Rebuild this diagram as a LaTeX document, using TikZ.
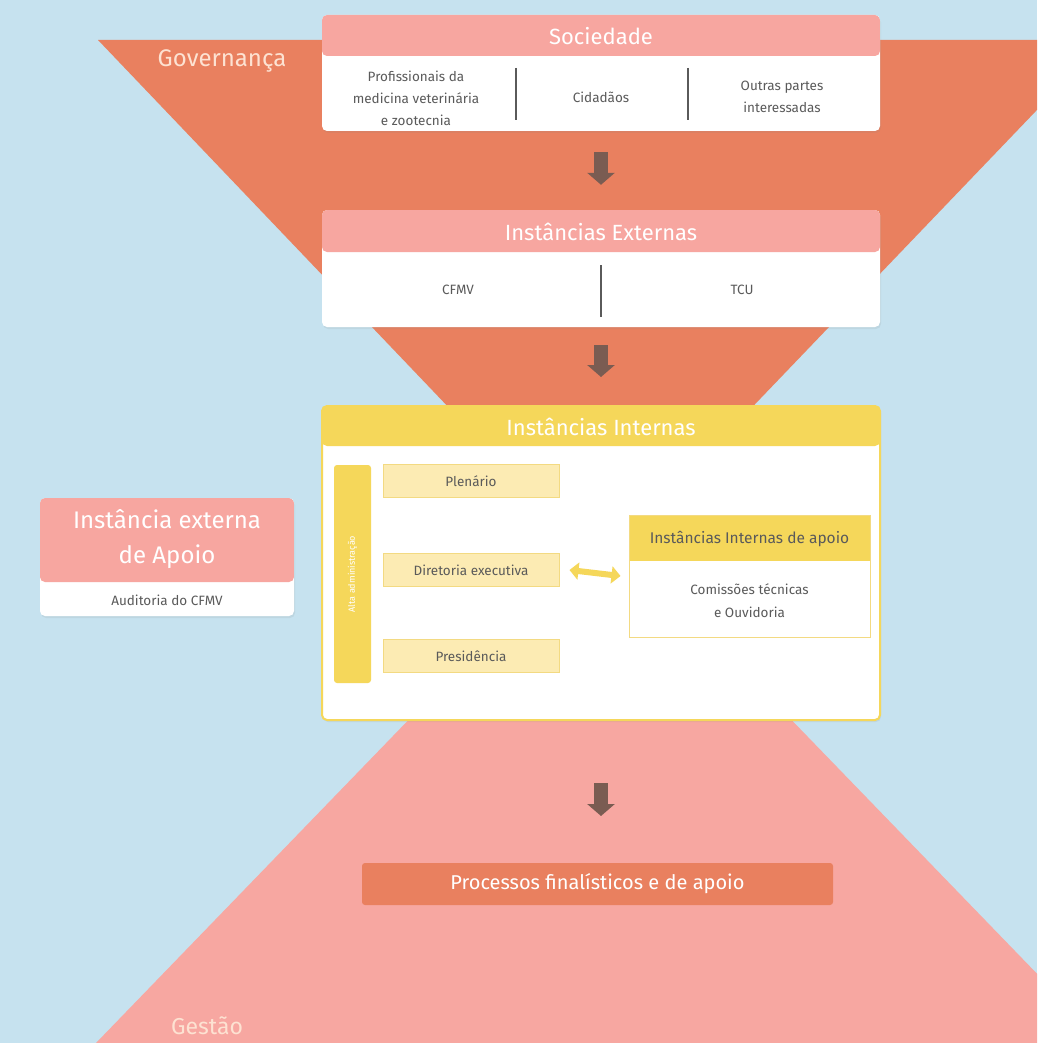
\documentclass[tikz,border=0pt]{standalone}
\usepackage{fontspec}
\setmainfont{Fira Sans}
\usetikzlibrary{arrows.meta,shadows}
\definecolor{bg}{HTML}{C6E2EF}
\definecolor{gov}{HTML}{E9805F}
\definecolor{ges}{HTML}{F7A7A1}
\definecolor{hdrpink}{HTML}{F7A6A0}
\definecolor{yel}{HTML}{F5D75A}
\definecolor{lyel}{HTML}{FCEBB3}
\definecolor{lyelb}{HTML}{F3DA82}
\definecolor{arr}{HTML}{7A5C52}
\definecolor{txt}{HTML}{5A5A5A}
\definecolor{govtxt}{HTML}{FDE2D2}
\newcommand\fsz[2]{\fontsize{#1}{#2}\selectfont}
\begin{document}
\begin{tikzpicture}[x=1pt,y=-1pt,
  panel/.style 2 args={rounded corners=5pt, fill=white, minimum width=#1, minimum height=#2, inner sep=0pt,
     drop shadow={opacity=0.12, shadow xshift=1pt, shadow yshift=-2pt}},
  hdr/.style 2 args={path picture={\fill[#1] (path picture bounding box.north west) rectangle ([yshift=-#2]path picture bounding box.north east);}},
  title/.style={text=white, font=\fsz{22}{26}},
  body/.style={text=txt, font=\fsz{13.5}{22}, align=center},
  sep/.style={draw=txt, line width=1.3pt},
  blk/.style={draw=arr, line width=14pt, -{Triangle[width=27pt,length=12pt]}},
  ybox/.style={fill=lyel, draw=lyelb, line width=1pt, minimum width=176pt, minimum height=33pt, inner sep=0pt, text=txt, font=\fsz{13.5}{16}},
  dbl/.style={draw=yel, line width=6pt, {Triangle[width=17pt,length=9pt]}-{Triangle[width=17pt,length=9pt]}}
]
\useasboundingbox (0,0) rectangle (1037,1043);
\fill[bg] (0,0) rectangle (1037,1043);
\begin{scope}
\clip (0,0) rectangle (1037,1043);
\fill[gov] (98,40) -- (1104,40) -- (600,566) -- cycle;
\fill[ges] (600,522) -- (96,1043) -- (1104,1043) -- cycle;
\end{scope}

\node[text=govtxt, font=\fsz{24}{28}] (govlbl) at (222,61) {Governança};
\node[text=govtxt, font=\fsz{23}{27}] (geslbl) at (207,1026) {Gestão};

% Sociedade
\node[panel={558pt}{116pt}, hdr={hdrpink}{41pt}] (soc) at (601,73) {};
\node[title] (socT) at (601,36) {Sociedade};
\node[body] (prof) at (416,98) {Profissionais da\\medicina veterinária\\e zootecnia};
\node[body] (cid) at (601,97) {Cidadãos};
\node[body] (outr) at (782,97) {Outras partes\\interessadas};
\draw[sep] (516,68) -- (516,120);
\draw[sep] (688,68) -- (688,120);

% Instancias Externas
\node[panel={558pt}{117pt}, hdr={hdrpink}{42pt}] (ext) at (601,268.5) {};
\node[title] (extT) at (601,232) {Instâncias Externas};
\node[body] (cfmv) at (458,290) {CFMV};
\node[body] (tcu) at (742,290) {TCU};
\draw[sep] (601,265) -- (601,317);

% Instancias Internas
\node[rounded corners=5pt, fill=white, draw=yel, line width=2pt, minimum width=558pt, minimum height=314pt, inner sep=0pt,
  hdr={yel}{40pt}, drop shadow={opacity=0.12, shadow xshift=1pt, shadow yshift=-2pt}] (int) at (601,563) {};
\node[title] (intT) at (601,427) {Instâncias Internas};
\node[fill=yel, rounded corners=3pt, minimum width=37pt, minimum height=218pt, inner sep=0pt] (bar) at (352.5,574) {};
\node[rotate=90, text=white, font=\fsz{9}{11}] (barT) at (bar.center) {Alta administração};
\node[ybox] (plen) at (471,481) {Plenário};
\node[ybox] (dir) at (471,570) {Diretoria executiva};
\node[ybox] (pres) at (471,656) {Presidência};

\node[fill=white, draw=lyelb, line width=1pt, minimum width=241pt, minimum height=122pt, inner sep=0pt, hdr={yel}{46pt}] (apoio) at (749.5,576) {};
\node[text=txt, font=\fsz{15.5}{18}] (apoioT) at (749.5,539) {Instâncias Internas de apoio};
\node[body, font=\fsz{13.5}{23}] (comis) at (749.5,601) {Comissões técnicas\\e Ouvidoria};
\draw[dbl] ([xshift=10pt]dir.east) -- ([xshift=-8pt]apoio.west);

% Instancia externa de apoio
\node[panel={254pt}{118pt}, hdr={hdrpink}{84pt}] (eapoio) at (167,557) {};
\node[text=white, font=\fsz{24}{35}, align=center] (eapoioT) at (167,539) {Instância externa\\de Apoio};
\node[body] (audit) at (167,600) {Auditoria do CFMV};

% Processos
\node[fill=gov, rounded corners=3pt, minimum width=471pt, minimum height=42pt, inner sep=0pt, text=white, font=\fsz{20}{24}] (proc) at (597.5,884) {Processos finalísticos e de apoio};

% arrows
\draw[blk] ([yshift=-21pt]soc.south) -- ([yshift=25pt]ext.north);
\draw[blk] ([yshift=-18pt]ext.south) -- ([yshift=28pt]int.north);
\draw[blk] ([yshift=-62pt]int.south) -- ([yshift=-95pt]int.south);
\end{tikzpicture}
\end{document}
